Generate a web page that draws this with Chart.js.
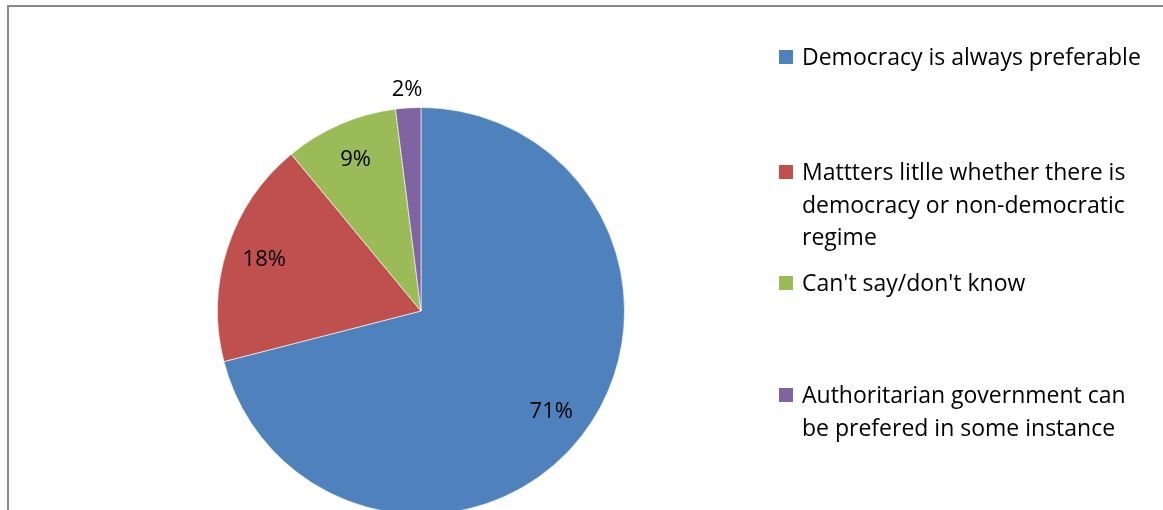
<!DOCTYPE html>
<html>
<head>
<meta charset="utf-8">
<script src="https://cdn.jsdelivr.net/npm/chart.js@4.4.1/dist/chart.umd.min.js"></script>
<style>
  html, body { margin: 0; padding: 0; background: #fff; }
  #wrap { position: relative; width: 1163px; height: 510px; overflow: hidden; background: #fff; }
  #frame { position: absolute; left: 7px; top: 5px; width: 1200px; height: 600px;
           border-left: 2px solid #898989; border-top: 2px solid #898989; }
  #pie { position: absolute; left: 0; top: 0; }
  .lg { position: absolute; left: 779px; font-family: 'Open Sans', Lato, sans-serif;
        font-size: 23px; line-height: 32.5px; color: #000; white-space: nowrap;
        font-variant-ligatures: none; }
  .lg .sw { position: absolute; left: 0; top: 10px; width: 14px; height: 14px; }
  .lg .tx { margin-left: 23px; }
</style>
</head>
<body>
<div id="wrap">
  <div id="frame"></div>
  <canvas id="pie" width="1163" height="520"></canvas>
  <div id="legend"></div>
</div>
<script>
// Survey answers, share of respondents (%)
const categories = [
  ['Democracy is always preferable'],
  ['Mattters litlle whether there is', 'democracy or non-democratic', 'regime'],
  ["Can't say/don't know"],
  ['Authoritarian government can', 'be prefered in some instance']
];
const shares = [71, 18, 9, 2];
const sliceColors = ['#4F81BD', '#C0504D', '#9BBB59', '#8064A2'];

// legend row tops (px), matching the original layout
const legendTops = [40, 155, 266, 378];

const fontFamily = "'Open Sans', Lato, sans-serif";

// percent labels: inside the slice, small slices pushed outside
const pctLabels = {
    id: 'pctLabels',
    afterDatasetsDraw(chart) {
        const ctx = chart.ctx;
        const meta = chart.getDatasetMeta(0);
        ctx.save();
        ctx.font = '22px ' + fontFamily;
        ctx.fillStyle = '#000';
        ctx.textAlign = 'center';
        ctx.textBaseline = 'middle';
        meta.data.forEach(function (arc, i) {
            const p = arc.getProps(['x', 'y', 'startAngle', 'endAngle', 'outerRadius'], true);
            const mid = (p.startAngle + p.endAngle) / 2;
            const f = shares[i] < 5 ? 1.09 : 0.81;
            ctx.fillText(shares[i] + '%', p.x + Math.cos(mid) * p.outerRadius * f,
                p.y + Math.sin(mid) * p.outerRadius * f);
        });
        ctx.restore();
    }
};

new Chart(document.getElementById('pie'), {
    type: 'pie',
    data: {
        labels: categories,
        datasets: [{
            data: shares,
            backgroundColor: sliceColors,
            borderColor: 'rgba(255,255,255,0.6)',
            borderWidth: 1
        }]
    },
    options: {
        responsive: false,
        animation: false,
        layout: { padding: { left: 217, right: 538, top: 107, bottom: 5 } },
        plugins: {
            legend: { display: false },
            tooltip: { enabled: false }
        }
    },
    plugins: [pctLabels]
});

// legend built from the same arrays
const legendEl = document.getElementById('legend');
categories.forEach(function (lines, i) {
    const item = document.createElement('div');
    item.className = 'lg';
    item.style.top = legendTops[i] + 'px';
    const sw = document.createElement('div');
    sw.className = 'sw';
    sw.style.background = sliceColors[i];
    const tx = document.createElement('div');
    tx.className = 'tx';
    tx.innerHTML = lines.join('<br>');
    item.appendChild(sw);
    item.appendChild(tx);
    legendEl.appendChild(item);
});
</script>
</body>
</html>
